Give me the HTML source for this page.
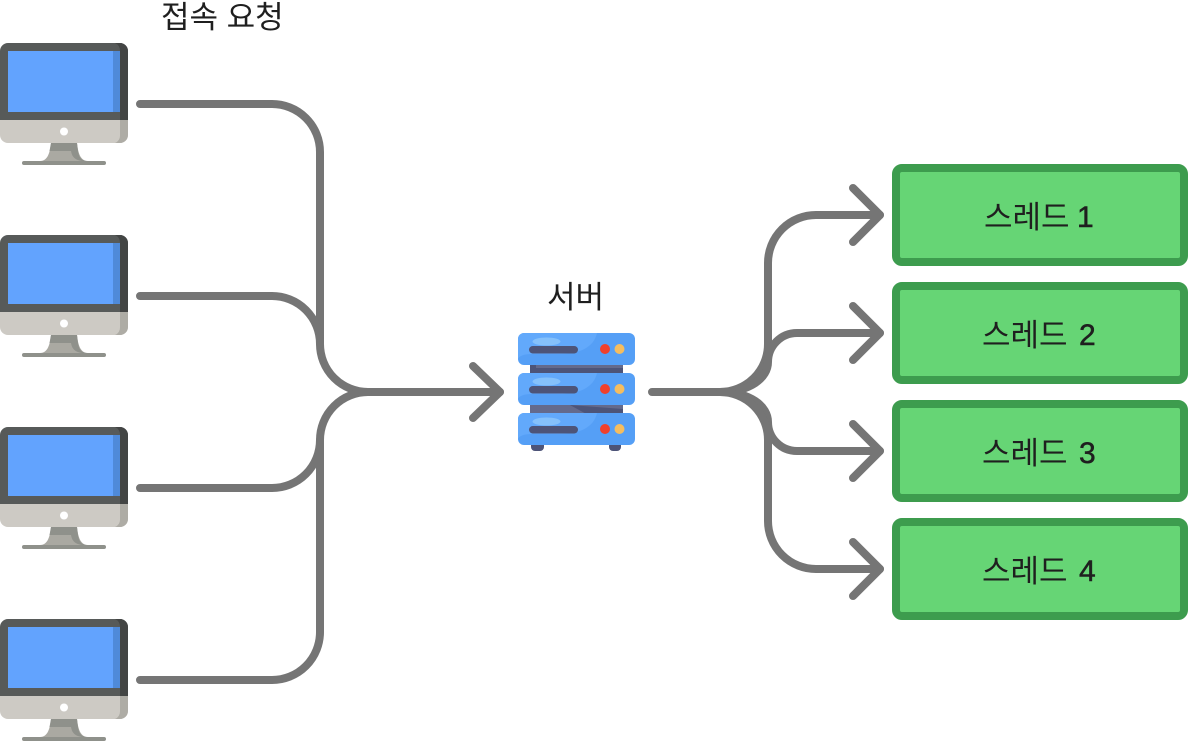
<!DOCTYPE html>
<html><head><meta charset="utf-8"><style>
html,body{margin:0;padding:0;background:#fff}
svg{display:block}
text{font-family:"Liberation Sans","Noto Sans CJK KR","NanumGothic",sans-serif;fill:#1f1f1f}
.d{stroke:#1f1f1f;stroke-width:.5}
</style></head><body>
<svg width="1188" height="744" viewBox="0 0 1188 744" xmlns="http://www.w3.org/2000/svg">
<defs>
<g id="mon">
<path d="M0 120V51a8 8 0 0 1 8-8H120a8 8 0 0 1 8 8V120Z" fill="#575a59"/>
<path d="M115 43H120a8 8 0 0 1 8 8V120H120V51a8 8 0 0 0-5-8Z" fill="#434544"/>
<rect x="8" y="51" width="112" height="61" fill="#62a3fe"/>
<rect x="113" y="51" width="7" height="61" fill="#4f8ad9"/>
<rect x="120" y="51" width="8" height="69" fill="#434544"/>
<path d="M0 120H128V135a8 8 0 0 1-8 8H8a8 8 0 0 1-8-8Z" fill="#cdcac4"/>
<path d="M120 120H128V135a8 8 0 0 1-8 8H115a8 8 0 0 0 5-8Z" fill="#aeaca5"/>
<circle cx="64" cy="131.500" r="4" fill="#fff"/>
<path d="M51 143H77C78 152 80 161 88 161H40C48 161 50 152 51 143Z" fill="#aaa9a2"/>
<path d="M51 143H77L78 151H49.500Z" fill="#8f918b"/>
<path d="M71 151H78C79 157 81 161 88 161H82C75 160 72 157 71 151Z" fill="#8f918b"/>
<rect x="22" y="161" width="84" height="4" rx="2" fill="#8f918b"/>
</g>
<g id="unit">
<rect x="518" y="0" width="117" height="32" rx="6" fill="#559ff6"/>
<path d="M524 0H597C594 14 580 21 560 21H532C524 21 519 23 518 26V6a6 6 0 0 1 6-6Z" fill="#62a9fb"/>
<ellipse cx="546.500" cy="8.500" rx="14" ry="4" fill="#85c1fb"/>
<rect x="529" y="13" width="49" height="7.500" rx="3.700" fill="#4d5478"/>
<circle cx="605" cy="16" r="5" fill="#f0402c"/>
<circle cx="619.500" cy="16" r="5" fill="#f5bd5f"/>
</g>
<g id="th">
<rect x="896" y="0" width="288" height="94" rx="6" fill="#66d575" stroke="#3d9c4e" stroke-width="8"/>
</g>
</defs>
<text x="161" y="28" font-size="31">접속 요청</text>
<use href="#mon"/>
<use href="#mon" y="192"/>
<use href="#mon" y="384"/>
<use href="#mon" y="576"/>
<g fill="none" stroke="#757575" stroke-width="8" stroke-linecap="round" stroke-linejoin="round">
<path d="M140 104H272A48 48 0 0 1 320 152V344A48 48 0 0 0 368 392H500"/>
<path d="M140 296H272A48 48 0 0 1 320 344"/>
<path d="M140 488H272A48 48 0 0 0 320 440"/>
<path d="M140 680H272A48 48 0 0 0 320 632V440A48 48 0 0 1 368 392"/>
<path d="M473 366L500 392L473 418"/>
<path d="M652 392H720A48 48 0 0 0 768 344V263A48 48 0 0 1 816 215H880"/>
<path d="M720 392C750 392 768 378 768 362A29 29 0 0 1 797 333H880"/>
<path d="M720 392C750 392 768 406 768 422A29 29 0 0 0 797 451H880"/>
<path d="M720 392A48 48 0 0 1 768 440V521A48 48 0 0 0 816 569H880"/>
<path d="M853 188L880 215L853 242"/>
<path d="M853 306L880 333L853 360"/>
<path d="M853 424L880 451L853 478"/>
<path d="M853 542L880 569L853 596"/>
</g>
<text x="547" y="308" font-size="31">서버</text>
<rect x="530" y="362" width="93" height="14" fill="#4d5478"/>
<rect x="536" y="362" width="87" height="6" fill="#646a8c"/>
<path d="M530 402H623V416H530Z" fill="#646a8c"/>
<path d="M570 405L623 409V416H590Z" fill="#4d5478"/>
<rect x="531" y="440" width="13" height="11" rx="4" fill="#4d5478"/>
<rect x="609" y="440" width="12" height="11" rx="4" fill="#4d5478"/>
<use href="#unit" y="333"/>
<use href="#unit" y="373"/>
<use href="#unit" y="413"/>
<use href="#th" y="168"/>
<use href="#th" y="286"/>
<use href="#th" y="404"/>
<use href="#th" y="522"/>
<text x="984" y="228" font-size="31">스레드</text><text x="1077" y="227" font-size="30" class="d">1</text>
<text x="982" y="346" font-size="31">스레드</text><text x="1079" y="345" font-size="30" class="d">2</text>
<text x="982" y="464" font-size="31">스레드</text><text x="1079" y="463" font-size="30" class="d">3</text>
<text x="982" y="582" font-size="31">스레드</text><text x="1079" y="581" font-size="30" class="d">4</text>
</svg>
</body></html>
